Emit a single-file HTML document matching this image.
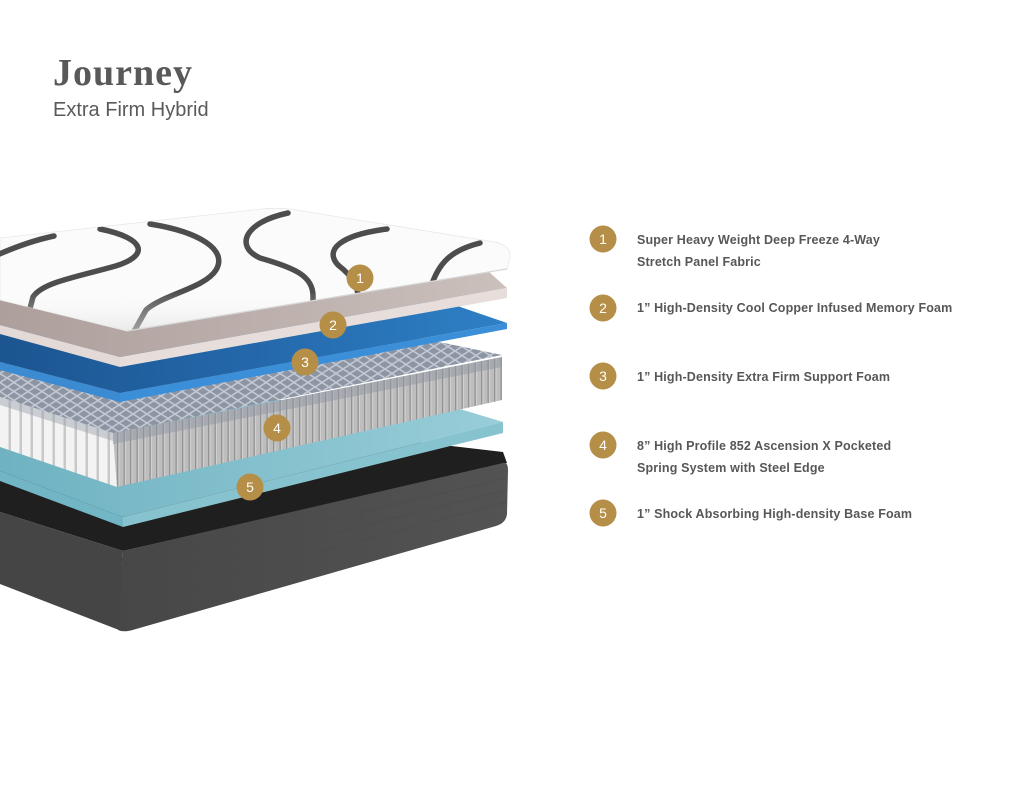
<!DOCTYPE html>
<html><head><meta charset="utf-8"><style>
html,body{margin:0;padding:0;background:#fff;}
svg{display:block;}
</style></head><body>
<svg width="1024" height="791" viewBox="0 0 1024 791" xmlns="http://www.w3.org/2000/svg">
<defs>
  <clipPath id="wc">
    <path d="M0,238 L262,209 Q282,207 302,211 L495,242 Q512,246 510,258 L507,269 L127,331 L0,300 Z"/>
  </clipPath>
  <linearGradient id="wside" x1="0" y1="0" x2="0" y2="1">
    <stop offset="0" stop-color="#ffffff" stop-opacity="0"/>
    <stop offset="0.65" stop-color="#ffffff" stop-opacity="0"/>
    <stop offset="1" stop-color="#d4d4d4" stop-opacity="0.7"/>
  </linearGradient>
  <linearGradient id="pinkTop" x1="0" y1="0" x2="1" y2="0">
    <stop offset="0" stop-color="#ad9f9b"/>
    <stop offset="1" stop-color="#cbc0bc"/>
  </linearGradient>
  <linearGradient id="blueTop" x1="0" y1="0" x2="1" y2="0">
    <stop offset="0" stop-color="#1c5590"/>
    <stop offset="0.5" stop-color="#2468ab"/>
    <stop offset="1" stop-color="#2f80c6"/>
  </linearGradient>
  <linearGradient id="lbTop" x1="0" y1="0" x2="1" y2="0">
    <stop offset="0" stop-color="#6fb2c2"/>
    <stop offset="1" stop-color="#98cdd8"/>
  </linearGradient>
  <linearGradient id="baseR" x1="0" y1="0" x2="1" y2="0">
    <stop offset="0" stop-color="#474747"/>
    <stop offset="1" stop-color="#535353"/>
  </linearGradient>
  <pattern id="mesh" patternUnits="userSpaceOnUse" width="14" height="9">
    <rect width="14" height="9" fill="#8d95a3"/>
    <path d="M0,4.5 L7,0 L14,4.5 L7,9 Z" fill="none" stroke="#c3c9d4" stroke-width="1.6"/>
  </pattern>
  <pattern id="pleatR" patternUnits="userSpaceOnUse" width="6.5" height="10">
    <rect width="6.5" height="10" fill="#bdbdbd"/>
    <rect width="1.4" height="10" fill="#929292"/>
    <rect x="1.4" width="1.2" height="10" fill="#d0d0d0"/>
  </pattern>
  <pattern id="pleatL" patternUnits="userSpaceOnUse" width="11" height="10">
    <rect width="11" height="10" fill="#f3f3f3"/>
    <rect x="8.5" width="2.5" height="10" fill="#c8c8c8"/>
  </pattern>
</defs>

<!-- BASE -->
<polygon points="0,440 400,440 503,452 507,463 123,551 0,512" fill="#1f1f1f"/>
<path d="M123,551 L503,463 Q508,462 508,470 L507,514 Q506,523 496,526 L136,629 Q124,633 118,630 Z" fill="url(#baseR)"/>
<path d="M0,512 L123,551 L119,630 L0,584 Z" fill="#454545"/>
<g stroke="#4a4a4a" stroke-width="1" opacity="0.5">
  <line x1="123" y1="568" x2="507" y2="478"/>
  <line x1="123" y1="586" x2="507" y2="490"/>
  <line x1="123" y1="604" x2="507" y2="502"/>
</g>

<!-- LAYER 5 light blue -->
<polygon points="0,400 430,400 503,422 123,517 0,471" fill="url(#lbTop)"/>
<polygon points="123,517 503,422 503,433 123,527" fill="#86c3cf"/>
<polygon points="0,471 123,517 123,527 0,481" fill="#72b5c4"/>

<!-- LAYER 4 springs -->
<polygon points="0,340 420,338 502,355 113,433 0,397" fill="url(#mesh)"/>
<polygon points="0,397 113,433 117,487 0,447" fill="url(#pleatL)"/>
<polygon points="113,433 502,357 502,400 117,487" fill="url(#pleatR)"/>
<polygon points="113,433 502,357 502,367 113,444" fill="#8f96a3" opacity="0.5"/>
<polygon points="0,397 113,433 113,441 0,405" fill="#9aa1ad" opacity="0.45"/>

<!-- LAYER 3 blue -->
<polygon points="0,300 440,300 507,323 120,393 0,362" fill="url(#blueTop)"/>
<polygon points="120,393 507,323 507,329 120,402" fill="#3b8fd8"/>
<polygon points="0,362 120,393 120,402 0,370" fill="#3a8bd2"/>

<!-- LAYER 2 pink -->
<polygon points="0,255 470,255 507,288 120,357 0,325" fill="url(#pinkTop)"/>
<polygon points="120,357 507,288 507,298 120,367" fill="#e7dedb"/>
<polygon points="0,325 120,357 120,367 0,334" fill="#e3d9d6"/>

<!-- LAYER 1 white top -->
<path d="M0,238 L262,209 Q282,207 302,211 L495,242 Q512,246 510,258 L507,269 L127,331 L0,300 Z" fill="#fbfbfb" stroke="#e8e8e8" stroke-width="0.8"/>
<g clip-path="url(#wc)" fill="none" stroke="#4d4d4d" stroke-width="5.5" stroke-linecap="round">
  <path d="M-5,256 C15,247 35,240 54,236"/>
  <path d="M100,229 C145,238 152,256 112,267 C72,278 42,283 33,297 L28,316"/>
  <path d="M150,224 C200,232 228,250 216,270 C205,288 162,295 146,310 L132,335"/>
  <path d="M288,213 C245,222 234,246 260,258 C295,268 313,276 313,296 L313,330"/>
  <path d="M387,229 C340,235 324,250 338,265 C352,276 360,286 358,305"/>
  <path d="M480,243 C452,250 438,262 430,290"/>
  <rect x="-10" y="200" width="540" height="140" fill="url(#wside)" stroke="none"/>
</g>
<path d="M127,331 L507,269" stroke="#d8d8d8" stroke-width="1.2" fill="none"/>

<!-- Badges on image -->
<g font-family="Liberation Sans, sans-serif" font-size="14" fill="#fff" text-anchor="middle">
  <circle cx="360" cy="278" r="13.5" fill="#b58e48"/><text x="360" y="283">1</text>
  <circle cx="333" cy="325" r="13.5" fill="#b58e48"/><text x="333" y="330">2</text>
  <circle cx="305" cy="362" r="13.5" fill="#b58e48"/><text x="305" y="367">3</text>
  <circle cx="277" cy="428" r="13.5" fill="#b58e48"/><text x="277" y="433">4</text>
  <circle cx="250" cy="487" r="13.5" fill="#b58e48"/><text x="250" y="492">5</text>
</g>

<!-- Title -->
<text x="53" y="85" font-family="Liberation Serif, serif" font-weight="bold" font-size="38" letter-spacing="1" fill="#595959">Journey</text>
<text x="53" y="116" font-family="Liberation Sans, sans-serif" font-size="20" fill="#5a5a5a">Extra Firm Hybrid</text>

<!-- Legend -->
<g font-family="Liberation Sans, sans-serif" font-size="14" fill="#fff" text-anchor="middle">
  <circle cx="603" cy="239" r="13.5" fill="#b58e48"/><text x="603" y="244">1</text>
  <circle cx="603" cy="308" r="13.5" fill="#b58e48"/><text x="603" y="313">2</text>
  <circle cx="603" cy="376" r="13.5" fill="#b58e48"/><text x="603" y="381">3</text>
  <circle cx="603" cy="445" r="13.5" fill="#b58e48"/><text x="603" y="450">4</text>
  <circle cx="603" cy="513" r="13.5" fill="#b58e48"/><text x="603" y="518">5</text>
</g>
<g font-family="Liberation Sans, sans-serif" font-weight="bold" font-size="12.5" letter-spacing="0.15" fill="#575757">
  <text x="637" y="244">Super Heavy Weight Deep Freeze 4-Way</text>
  <text x="637" y="266">Stretch Panel Fabric</text>
  <text x="637" y="312">1” High-Density Cool Copper Infused Memory Foam</text>
  <text x="637" y="381">1” High-Density Extra Firm Support Foam</text>
  <text x="637" y="450">8” High Profile 852 Ascension X Pocketed</text>
  <text x="637" y="472">Spring System with Steel Edge</text>
  <text x="637" y="518">1” Shock Absorbing High-density Base Foam</text>
</g>
</svg>
</body></html>
